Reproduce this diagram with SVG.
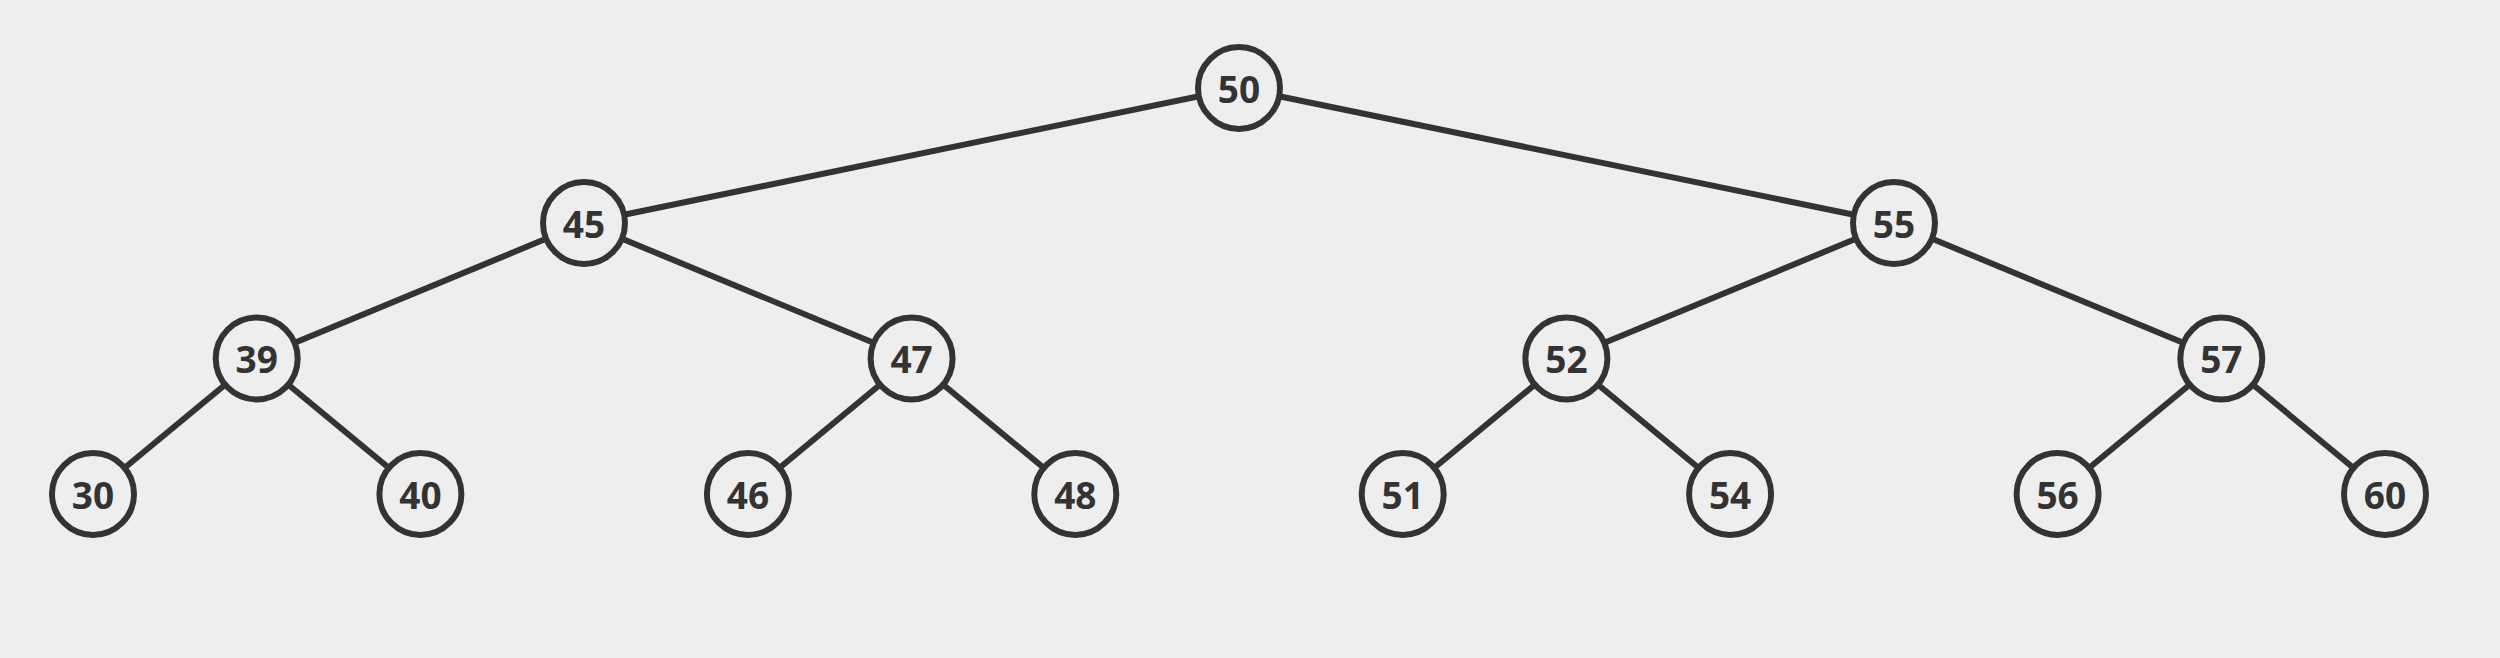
<svg xmlns="http://www.w3.org/2000/svg" width="2500" height="658" viewBox="0 0 2500 658">
<style>
.n circle{fill:#eeeeee;stroke:#333333;stroke-width:6}
.n text{font-family:"Open Sans","DejaVu Sans",sans-serif;font-weight:700;font-size:37px;fill:#333333;text-anchor:middle;dominant-baseline:central}
#edges line{stroke:#333333;stroke-width:6}
</style>
<rect width="2500" height="658" fill="#eeeeee"/>
<g id="edges">
<line x1="1239" y1="88" x2="584" y2="223"/>
<line x1="1239" y1="88" x2="1894" y2="223"/>
<line x1="584" y1="223" x2="256.7" y2="358.5"/>
<line x1="584" y1="223" x2="911.6" y2="358.5"/>
<line x1="1894" y1="223" x2="1566.4" y2="358.5"/>
<line x1="1894" y1="223" x2="2221.3" y2="358.5"/>
<line x1="256.7" y1="358.5" x2="93" y2="494"/>
<line x1="256.7" y1="358.5" x2="420.4" y2="494"/>
<line x1="911.6" y1="358.5" x2="747.9" y2="494"/>
<line x1="911.6" y1="358.5" x2="1075.3" y2="494"/>
<line x1="1566.4" y1="358.5" x2="1402.7" y2="494"/>
<line x1="1566.4" y1="358.5" x2="1730.1" y2="494"/>
<line x1="2221.3" y1="358.5" x2="2057.6" y2="494"/>
<line x1="2221.3" y1="358.5" x2="2385" y2="494"/>
</g>
<g id="n50" class="n"><circle cx="1239" cy="88" r="41"/><text x="1239" y="88">50</text></g>
<g id="n45" class="n"><circle cx="584" cy="223" r="41"/><text x="584" y="223">45</text></g>
<g id="n55" class="n"><circle cx="1894" cy="223" r="41"/><text x="1894" y="223">55</text></g>
<g id="n39" class="n"><circle cx="256.7" cy="358.5" r="41"/><text x="256.7" y="358.5">39</text></g>
<g id="n47" class="n"><circle cx="911.6" cy="358.5" r="41"/><text x="911.6" y="358.5">47</text></g>
<g id="n52" class="n"><circle cx="1566.4" cy="358.5" r="41"/><text x="1566.4" y="358.5">52</text></g>
<g id="n57" class="n"><circle cx="2221.3" cy="358.5" r="41"/><text x="2221.3" y="358.5">57</text></g>
<g id="n30" class="n"><circle cx="93" cy="494" r="41"/><text x="93" y="494">30</text></g>
<g id="n40" class="n"><circle cx="420.4" cy="494" r="41"/><text x="420.4" y="494">40</text></g>
<g id="n46" class="n"><circle cx="747.9" cy="494" r="41"/><text x="747.9" y="494">46</text></g>
<g id="n48" class="n"><circle cx="1075.3" cy="494" r="41"/><text x="1075.3" y="494">48</text></g>
<g id="n51" class="n"><circle cx="1402.7" cy="494" r="41"/><text x="1402.7" y="494">51</text></g>
<g id="n54" class="n"><circle cx="1730.1" cy="494" r="41"/><text x="1730.1" y="494">54</text></g>
<g id="n56" class="n"><circle cx="2057.6" cy="494" r="41"/><text x="2057.6" y="494">56</text></g>
<g id="n60" class="n"><circle cx="2385" cy="494" r="41"/><text x="2385" y="494">60</text></g>
</svg>
